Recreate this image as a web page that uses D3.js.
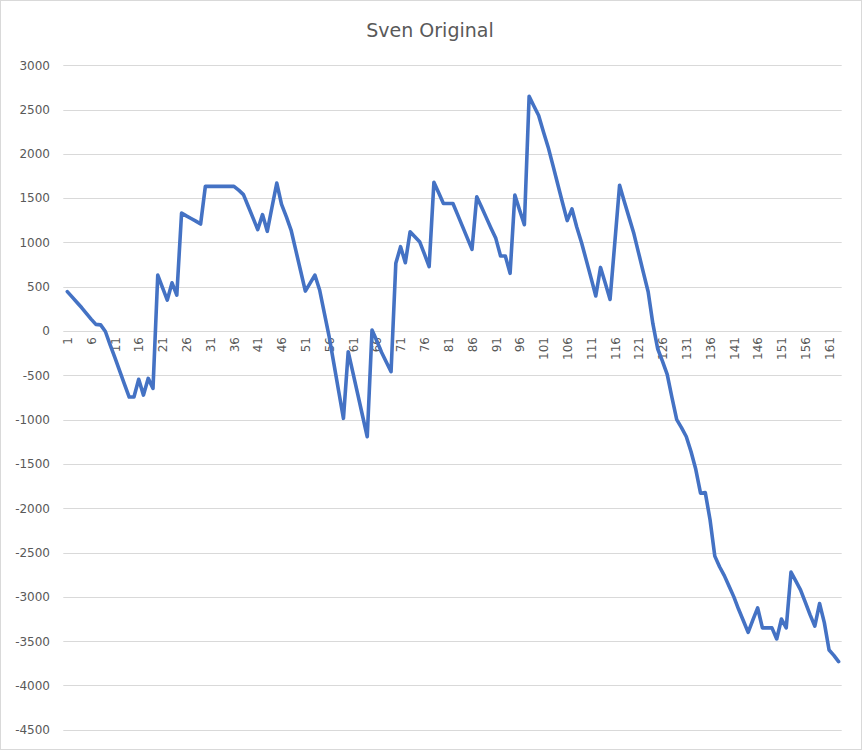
<!DOCTYPE html>
<html>
<head>
<meta charset="utf-8">
<script src="https://cdn.jsdelivr.net/npm/d3@7"></script>
<style>
  html, body { margin: 0; padding: 0; background: #fff; }
  svg { display: block; }
</style>
</head>
<body>
<div id="chart"></div>
<script>
const title = "Sven Original";
const categories = d3.range(1, 164);
const values = [
  445, 385, 325, 265, 200, 135, 75, 70, -5, -155,
  -300, -450, -600, -745, -745, -545, -723, -534, -647, 632,
  490, 350, 544, 406, 1332, 1300, 1270, 1240, 1208, 1633,
  1633, 1633, 1633, 1633, 1633, 1633, 1590, 1540, 1408, 1277,
  1145, 1314, 1125, 1400, 1670, 1430, 1290, 1140, 910, 680,
  451, 540, 632, 463, 200, -64, -370, -680, -985, -233,
  -473, -713, -953, -1193, 11, -110, -240, -350, -459, 764,
  952, 771, 1121, 1065, 1009, 870, 727, 1678, 1560, 1440,
  1440, 1440, 1311, 1181, 1052, 922, 1516, 1400, 1280, 1160,
  1046, 847, 847, 651, 1535, 1365, 1200, 2650, 2540, 2432,
  2250, 2075, 1870, 1660, 1450, 1246, 1378, 1175, 1000, 800,
  600, 395, 718, 540, 357, 1000, 1646, 1460, 1280, 1100,
  880, 660, 444, 80, -200, -340, -490, -750, -1000, -1090,
  -1190, -1360, -1560, -1830, -1823, -2130, -2540, -2660, -2760, -2880,
  -3000, -3140, -3270, -3400, -3260, -3125, -3350, -3350, -3350, -3475,
  -3250, -3350, -2720, -2820, -2920, -3060, -3200, -3330, -3075, -3290,
  -3600, -3660, -3730
];
const yTicks = d3.range(-4500, 3001, 500);
const xTickLabels = categories.filter(c => (c - 1) % 5 === 0);

const W = 862, H = 750;
const plot = { left: 63.3, right: 841.7, top: 65.2, bottom: 729.8 };

const svg = d3.select("#chart").append("svg")
  .attr("width", W).attr("height", H);

svg.append("rect").attr("x", 0).attr("y", 0).attr("width", W).attr("height", H)
  .attr("fill", "#fff");
svg.append("rect").attr("x", 0.5).attr("y", 0.5).attr("width", W - 1).attr("height", H - 1)
  .attr("fill", "none").attr("stroke", "#d9d9d9").attr("stroke-width", 1);

const x = d3.scalePoint().domain(categories).range([67.3, 838.6]);
const y = d3.scaleLinear().domain([-4500, 3000]).range([plot.bottom, plot.top]);

const font = "'DejaVu Sans', sans-serif";

// gridlines
svg.append("g").selectAll("line").data(yTicks).join("line")
  .attr("x1", plot.left).attr("x2", plot.right)
  .attr("y1", d => Math.round(y(d)) + 0.5).attr("y2", d => Math.round(y(d)) + 0.5)
  .attr("stroke", "#d9d9d9").attr("stroke-width", 1);

// y axis labels
const yAxis = d3.axisLeft(y).tickValues(yTicks).tickSize(0).tickPadding(0)
  .tickFormat(d => String(d));
const gy = svg.append("g").attr("transform", "translate(50,0)").call(yAxis);
gy.select(".domain").remove();
gy.selectAll("text").attr("font-family", font).attr("font-size", 12).attr("fill", "#595959");

// x axis labels (rotated, along the zero line)
const xAxis = d3.axisBottom(x).tickValues(xTickLabels).tickSize(0).tickPadding(0)
  .tickFormat(d => String(d));
const gx = svg.append("g").attr("transform", `translate(0,${y(0)})`).call(xAxis);
gx.select(".domain").remove();
gx.selectAll("text")
  .attr("font-family", font).attr("font-size", 12).attr("fill", "#595959")
  .attr("text-anchor", "end")
  .attr("transform", "translate(0,6) rotate(-90)")
  .attr("x", 0).attr("y", 0).attr("dy", "0.35em");

// line
const line = d3.line().x((d, i) => x(categories[i])).y(d => y(d));
svg.append("path").datum(values)
  .attr("d", line)
  .attr("fill", "none")
  .attr("stroke", "#4472C4")
  .attr("stroke-width", 3.6)
  .attr("stroke-linejoin", "round")
  .attr("stroke-linecap", "round");

// title
svg.append("text").attr("x", 430).attr("y", 37)
  .attr("text-anchor", "middle")
  .attr("font-family", font).attr("font-size", 19)
  .attr("fill", "#595959")
  .text(title);
</script>
</body>
</html>
